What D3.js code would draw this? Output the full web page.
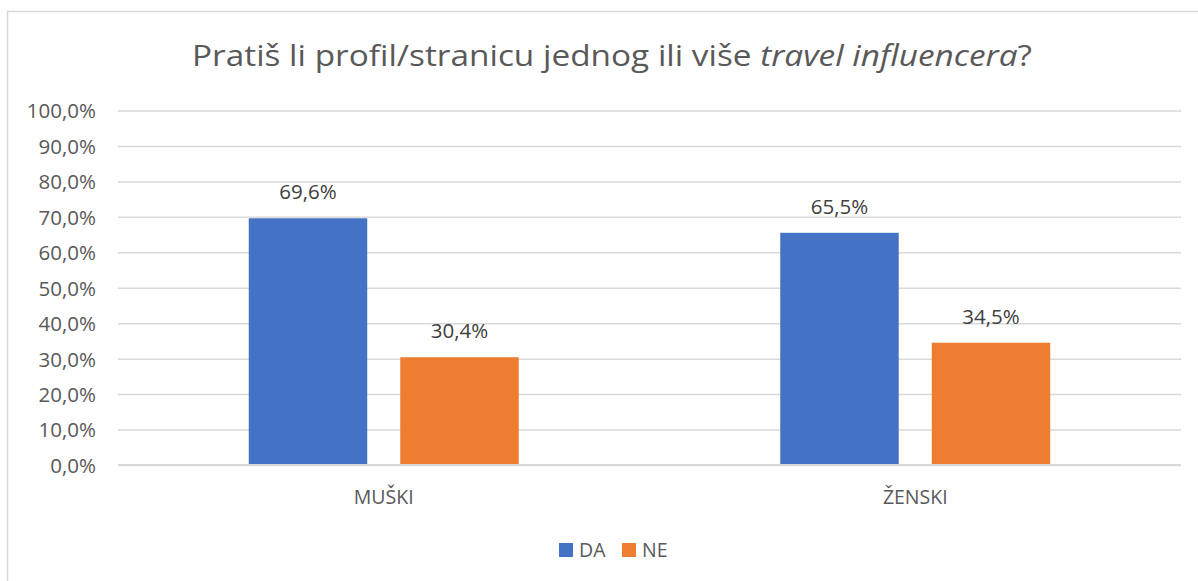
<!DOCTYPE html>
<html>
<head>
<meta charset="utf-8">
<script src="https://cdn.jsdelivr.net/npm/d3@7"></script>
<style>
  html, body { margin: 0; padding: 0; background: #fff; }
  svg { display: block; }
  text { font-family: "Open Sans", "Noto Sans", sans-serif; }
</style>
</head>
<body>
<svg id="chart" width="1198" height="581"></svg>
<script>
const categories = ["MUŠKI", "ŽENSKI"];
const seriesNames = ["DA", "NE"];
const valuesDA = [69.6, 65.5];
const valuesNE = [30.4, 34.5];
const seriesColors = ["#4472C4", "#ED7D31"];
const yTicks = [0, 10, 20, 30, 40, 50, 60, 70, 80, 90, 100];
const titlePlain = "Pratiš li profil/stranicu jednog ili više ";
const titleItalic = "travel influencera";
const titleEnd = "?";

(function () {
const seriesValues = [valuesDA, valuesNE];
const fmt = v => v.toFixed(1).replace(".", ",") + "%";

const svg = d3.select("#chart");

// chart border
svg.append("rect")
  .attr("x", 7.5).attr("y", 11.5)
  .attr("width", 1198).attr("height", 600)
  .attr("fill", "#fff").attr("stroke", "#d9d9d9").attr("stroke-width", 1.5);

const pLeft = 118, pRight = 1181, pTop = 110.5, pBottom = 465;

const y = d3.scaleLinear().domain([0, 100]).range([pBottom, pTop]);
const x0 = d3.scaleBand().domain(categories).range([pLeft, pRight]).padding(0);
const groupW = 270;
const x1 = d3.scaleBand().domain(seriesNames).range([0, groupW]).paddingInner(0.218).paddingOuter(0);

// gridlines + tick labels
const yAxis = d3.axisLeft(y).tickValues(yTicks).tickSize(-(pRight - pLeft)).tickFormat(d => d.toFixed(1).replace(".", ",") + "%");
const gy = svg.append("g").attr("transform", `translate(${pLeft},0)`).call(yAxis);
gy.select(".domain").remove();
gy.selectAll(".tick line").attr("stroke", "#d9d9d9").attr("stroke-width", 1.5);
gy.selectAll(".tick text")
  .attr("x", -22).attr("dy", "0.36em")
  .attr("fill", "#595959").style("font-size", "20.5px")
  .style("font-family", "'Open Sans', sans-serif");

// bars
const groups = svg.append("g").selectAll("g")
  .data(categories)
  .join("g")
  .attr("transform", c => `translate(${x0(c) + (x0.bandwidth() - groupW) / 2},0)`);

groups.selectAll("rect")
  .data((c, i) => seriesNames.map((s, j) => ({ s, j, v: seriesValues[j][i] })))
  .join("rect")
  .attr("x", d => x1(d.s))
  .attr("width", x1.bandwidth())
  .attr("y", d => y(d.v))
  .attr("height", d => y(0) - y(d.v))
  .attr("fill", d => seriesColors[d.j]);

groups.selectAll("text.lbl")
  .data((c, i) => seriesNames.map((s, j) => ({ s, j, v: seriesValues[j][i] })))
  .join("text")
  .attr("class", "lbl")
  .attr("x", d => x1(d.s) + x1.bandwidth() / 2)
  .attr("y", d => y(d.v) - 19)
  .attr("text-anchor", "middle")
  .attr("fill", "#404040")
  .style("font-size", "20.5px")
  .text(d => fmt(d.v));

// x axis line
svg.append("line")
  .attr("x1", pLeft).attr("x2", pRight)
  .attr("y1", y(0)).attr("y2", y(0))
  .attr("stroke", "#d9d9d9").attr("stroke-width", 2);

// category labels
const xAxis = d3.axisBottom(x0).tickSize(0).tickPadding(0);
const gx = svg.append("g").attr("transform", `translate(0,${pBottom})`).call(xAxis);
gx.select(".domain").remove();
gx.selectAll(".tick text")
  .attr("y", 39).attr("dy", 0)
  .attr("fill", "#595959").style("font-size", "19.5px")
  .style("font-family", "'Open Sans', sans-serif");

// title
const title = svg.append("text")
  .attr("x", 192).attr("y", 66)
  .attr("fill", "#595959")
  .style("font-size", "29.5px");
title.append("tspan").text(titlePlain);
title.append("tspan").style("font-style", "italic").text(titleItalic);
title.append("tspan").text(titleEnd);
title.attr("textLength", 840).attr("lengthAdjust", "spacingAndGlyphs");

// legend
const legendX = [559, 622];
const leg = svg.append("g");
seriesNames.forEach((s, j) => {
  leg.append("rect")
    .attr("x", legendX[j]).attr("y", 543)
    .attr("width", 14).attr("height", 14)
    .attr("fill", seriesColors[j]);
  leg.append("text")
    .attr("x", legendX[j] + 20).attr("y", 557)
    .attr("fill", "#595959").style("font-size", "19.5px")
    .text(s);
});
})();
</script>
</body>
</html>
